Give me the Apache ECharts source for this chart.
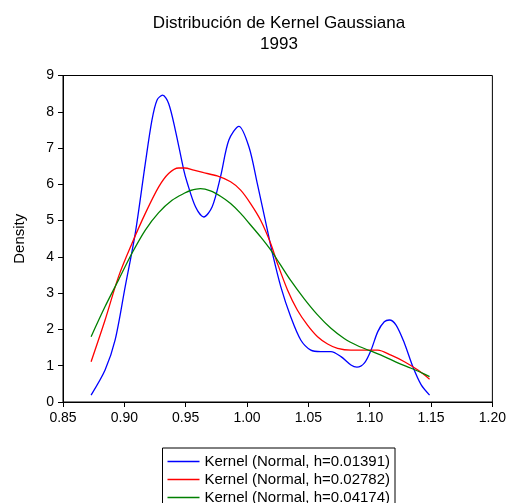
<!DOCTYPE html>
<html>
<head>
<meta charset="utf-8">
<script src="https://cdn.jsdelivr.net/npm/echarts@6/dist/echarts.min.js"></script>
<style>html,body{margin:0;padding:0;background:#fff;}#c{width:509px;height:503px;}</style>
</head>
<body>
<div id="c"></div>
<script>
var titleLines = ['Distribución de Kernel Gaussiana', '1993'];
var seriesNames = ['Kernel (Normal, h=0.01391)', 'Kernel (Normal, h=0.02782)', 'Kernel (Normal, h=0.04174)'];
var xTicks = [0.85, 0.90, 0.95, 1.00, 1.05, 1.10, 1.15, 1.20];
var yTicks = [0, 1, 2, 3, 4, 5, 6, 7, 8, 9];

var blueX = [0.8729, 0.8843, 0.8925, 0.9007, 0.9089, 0.9171, 0.9225, 0.9266, 0.9312, 0.9361, 0.9416, 0.9484, 0.9512, 0.958, 0.9647, 0.9716, 0.9784, 0.9852, 0.9934, 1.0016, 1.0084, 1.0166, 1.0207, 1.0275, 1.0356, 1.0438, 1.052, 1.0602, 1.0684, 1.0766, 1.0847, 1.0896, 1.0956, 1.1011, 1.1066, 1.1119, 1.116, 1.1215, 1.1283, 1.1352, 1.142, 1.1488];
var blueY = [0.19, 0.88, 1.71, 3.18, 4.65, 6.58, 7.77, 8.32, 8.46, 8.23, 7.49, 6.40, 6.05, 5.38, 5.10, 5.38, 6.21, 7.22, 7.60, 7.03, 6.02, 4.74, 4.10, 3.18, 2.35, 1.71, 1.43, 1.39, 1.39, 1.25, 1.02, 0.96, 1.07, 1.43, 1.94, 2.21, 2.26, 2.12, 1.62, 0.97, 0.47, 0.19];

var redX = [0.8729, 0.8843, 0.8952, 0.9062, 0.9171, 0.928, 0.9361, 0.9443, 0.9492, 0.9566, 0.9647, 0.9757, 0.9866, 0.9948, 1.0029, 1.0111, 1.0193, 1.0248, 1.033, 1.0411, 1.0493, 1.0575, 1.0657, 1.0738, 1.0847, 1.0956, 1.1066, 1.1174, 1.1283, 1.1393, 1.1488];
var redY = [1.11, 2.26, 3.45, 4.37, 5.20, 5.93, 6.30, 6.45, 6.45, 6.39, 6.32, 6.23, 6.07, 5.84, 5.47, 5.01, 4.37, 3.82, 3.09, 2.53, 2.12, 1.80, 1.60, 1.48, 1.43, 1.43, 1.43, 1.29, 1.11, 0.88, 0.63];

var greenX = [0.8729, 0.8843, 0.8952, 0.9062, 0.9171, 0.928, 0.9389, 0.9492, 0.9539, 0.962, 0.9702, 0.9784, 0.9866, 0.9948, 1.0029, 1.0111, 1.0193, 1.0269, 1.0356, 1.0465, 1.0575, 1.0684, 1.0792, 1.0902, 1.1011, 1.1119, 1.1229, 1.1338, 1.1447, 1.1488];
var greenY = [1.80, 2.63, 3.36, 4.10, 4.74, 5.22, 5.56, 5.76, 5.83, 5.88, 5.82, 5.67, 5.47, 5.20, 4.88, 4.55, 4.19, 3.80, 3.35, 2.85, 2.40, 2.03, 1.75, 1.55, 1.40, 1.25, 1.08, 0.93, 0.77, 0.70];

function pairs(xs, ys) { return xs.map(function (x, i) { return [x, ys[i]]; }); }

var colors = ['#0000ff', '#ff0000', '#008000'];
var fontFam = 'Liberation Sans, Arial, sans-serif';

var chart = echarts.init(document.getElementById('c'));
chart.setOption({
  animation: false,
  backgroundColor: '#fff',
  title: {
    text: titleLines.join('\n'),
    left: 274, textAlign: 'center', top: 8,
    textStyle: { fontSize: 17, fontWeight: 'normal', color: '#000', fontFamily: fontFam, lineHeight: 21 }
  },
  grid: { left: 63, right: 15.5, top: 75.5, bottom: 101, show: true, borderColor: '#000', borderWidth: 1, backgroundColor: 'transparent' },
  legend: {
    orient: 'vertical', left: 162.5, top: 448, height: 90,
    data: seriesNames,
    icon: 'rect', itemWidth: 32, itemHeight: 1.5, itemGap: 3,
    padding: [6, 5, 6, 5],
    borderColor: '#000', borderWidth: 1,
    textStyle: { fontSize: 15, color: '#000', fontFamily: fontFam }
  },
  xAxis: {
    type: 'value', min: xTicks[0], max: xTicks[xTicks.length - 1], interval: 0.05,
    axisLine: { show: true, onZero: false, lineStyle: { color: '#000', width: 1 } },
    axisTick: { show: true, inside: false, length: 5, lineStyle: { color: '#000' } },
    axisLabel: { margin: 9, fontSize: 14, color: '#000', fontFamily: fontFam, formatter: function (v) { return v.toFixed(2); } },
    splitLine: { show: false }
  },
  yAxis: {
    type: 'value', min: yTicks[0], max: yTicks[yTicks.length - 1], interval: 1,
    name: 'Density', nameLocation: 'middle', nameGap: 36,
    nameTextStyle: { fontSize: 15, color: '#000', fontFamily: fontFam },
    axisLine: { show: true, onZero: false, lineStyle: { color: '#000', width: 1 } },
    axisTick: { show: true, inside: false, length: 5, lineStyle: { color: '#000' } },
    axisLabel: { margin: 9, fontSize: 14, color: '#000', fontFamily: fontFam },
    splitLine: { show: false }
  },
  series: [
    { name: seriesNames[0], type: 'line', data: pairs(blueX, blueY), smooth: 0.3, showSymbol: false, lineStyle: { color: colors[0], width: 1.3 }, itemStyle: { color: colors[0] } },
    { name: seriesNames[1], type: 'line', data: pairs(redX, redY), smooth: 0.3, showSymbol: false, lineStyle: { color: colors[1], width: 1.3 }, itemStyle: { color: colors[1] } },
    { name: seriesNames[2], type: 'line', data: pairs(greenX, greenY), smooth: 0.3, showSymbol: false, lineStyle: { color: colors[2], width: 1.3 }, itemStyle: { color: colors[2] } }
  ]
});
</script>
</body>
</html>
